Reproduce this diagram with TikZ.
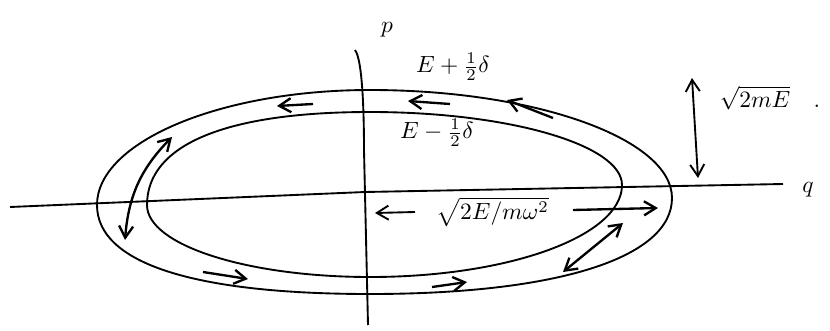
\documentclass[tikz,border=0pt]{standalone}
\usepackage{amsmath,amssymb}
\usetikzlibrary{arrows.meta}

\begin{document}
\begin{tikzpicture}[x=0.015cm, y=-0.015cm, line width=0.8pt, >={Straight Barb[length=5pt,width=6pt]},
  orbit/.style={line width=0.8pt},
  flow/.style={->, line width=1pt}]
\useasboundingbox (0,0) rectangle (830,330);
\draw[orbit] (97,205) .. controls (97,142) and (220,90) .. (370,90)
  .. controls (536,90) and (672,139) .. (672,198)
  .. controls (672,258) and (557,294) .. (370,294)
  .. controls (193,294) and (97,263) .. (97,205);
\draw[orbit] (147,205) .. controls (147,145) and (225,112) .. (370,112)
  .. controls (509,112) and (622,145) .. (622,185)
  .. controls (622,236) and (509,277) .. (370,277)
  .. controls (247,277) and (147,245) .. (147,205);
\coordinate (qleft) at (10,207);
\coordinate (qmid) at (365,192);
\coordinate (qright) at (783,184);
\coordinate (ptop) at (355,50);
\coordinate (pmid) at (364,150);
\coordinate (pbot) at (368,325);
\draw (qleft) -- (qmid) -- (qright);
\draw (ptop) .. controls (363,60) and (364,120) .. (pmid) -- (pbot);
\node (p) at (387,30) {$p$};
\node (q) at (808,190) {$q$};
\node (Eplus) at (453,67) {$E+\frac12\delta$};
\node (Eminus) at (437,133) {$E-\frac12\delta$};
\node (pmax) at (770,98) {$\sqrt{2mE}\quad.$};
\node (qmax) [anchor=west] at (428,212) {$\sqrt{2E/m\omega^2}$};
\coordinate (t1) at (313,104);
\coordinate (t2) at (277,106);
\coordinate (t3) at (450,104);
\coordinate (t4) at (408,101);
\coordinate (t5) at (553,118);
\coordinate (t6) at (507,100);
\coordinate (l1) at (172,137);
\coordinate (l2) at (125,240);
\coordinate (b1) at (203,272);
\coordinate (b2) at (248,279);
\coordinate (b3) at (432,287);
\coordinate (b4) at (467,282);
\coordinate (r1) at (573,210);
\coordinate (r2) at (658,208);
\coordinate (r3) at (563,272);
\coordinate (r4) at (623,223);
\coordinate (c1) at (415,212);
\coordinate (c2) at (375,213);
\coordinate (v1) at (692,78);
\coordinate (v2) at (698,178);
\draw[flow] (t1) -- (t2);
\draw[flow] (t3) -- (t4);
\draw[flow] (t5) -- (t6);
\draw[flow, <->] (l1) to[bend right=20] (l2);
\draw[flow] (b1) -- (b2);
\draw[flow] (b3) -- (b4);
\draw[flow] (r1) -- (r2);
\draw[flow, <->] (r3) -- (r4);
\draw[->] (c1) -- (c2);
\draw[<->] (v1) -- (v2);
\end{tikzpicture}
\end{document}
